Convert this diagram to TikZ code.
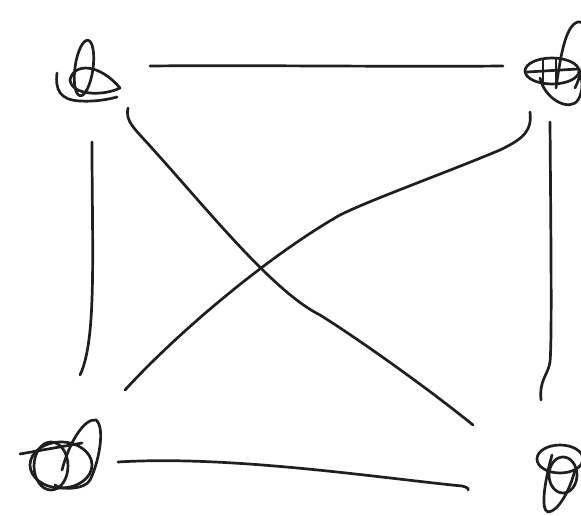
\documentclass[tikz,border=0pt]{standalone}
\begin{document}
\begin{tikzpicture}[x=1pt,y=-1pt,
  ink/.style={line width=2.7pt, line cap=round, line join=round, black!88},
  vert/.style={inner sep=0pt, minimum size=50pt}]
\useasboundingbox (0,0) rectangle (581,516);
% vertices (scribbled)
\node[vert] (A) at (88,70) {};
\node[vert] (B) at (552,72) {};
\node[vert] (C) at (60,462) {};
\node[vert] (D) at (560,475) {};
% scribble A
\draw[ink] (84,68) ellipse [x radius=9, y radius=28, rotate=-8];
\draw[ink] (70,80) .. controls (74,62) and (100,64) .. (120,88) .. controls (104,96) and (72,96) .. (70,80);
\draw[ink] (57,73) .. controls (55,90) and (60,100) .. (80,101) .. controls (95,102) and (110,99) .. (117,97);
% scribble B
\draw[ink] (552,71) ellipse [x radius=27, y radius=13];
\draw[ink] (543,60) -- (543,84);
\draw[ink] (556,58) -- (556,86);
\draw[ink] (527,72) -- (578,69);
\draw[ink] (540,78) .. controls (545,100) and (570,112) .. (578,100) .. controls (584,90) and (582,80) .. (580,72);
\draw[ink] (556,88) .. controls (560,60) and (565,25) .. (578,22) .. controls (592,20) and (588,60) .. (575,88);
% scribble C
\draw[ink] (20,454) -- (82,443);
\draw[ink] (61,465) ellipse [x radius=31, y radius=23];
\draw[ink] (51,466) ellipse [x radius=17, y radius=24];
\draw[ink] (62,470) .. controls (70,440) and (85,418) .. (96,420) .. controls (106,428) and (98,465) .. (90,480) .. controls (85,490) and (60,490) .. (55,485);
% scribble D
\draw[ink] (560,459) ellipse [x radius=23, y radius=14];
\draw[ink] (563,475) ellipse [x radius=14, y radius=18];
\draw[ink] (552,455) .. controls (545,480) and (540,510) .. (548,512) .. controls (558,512) and (570,490) .. (575,470);
% connector ends
\coordinate (a1) at (150,66); \coordinate (b1) at (503,66);
\coordinate (a2) at (92,142); \coordinate (c1) at (80,375);
\coordinate (b2) at (550,122); \coordinate (d1) at (541,400);
\coordinate (c2) at (118,462); \coordinate (d2) at (468,490);
\coordinate (a3) at (128,108); \coordinate (d3) at (473,425);
\coordinate (b3) at (530,112); \coordinate (c3) at (125,390);
% connectors
\draw[ink] (a1) .. controls (250,65) and (400,67) .. (b1);
\draw[ink] (a2) .. controls (92,250) and (97,340) .. (c1);
\draw[ink] (b2) .. controls (551,250) and (552,340) .. (550,362) .. controls (548,375) and (539,380) .. (d1);
\draw[ink] (c2) .. controls (230,455) and (380,478) .. (462,486) .. controls (467,487) and (469,489) .. (d2);
\draw[ink] (a3) .. controls (126,118) and (130,124) .. (140,135) .. controls (200,200) and (270,290) .. (320,315) .. controls (360,340) and (430,390) .. (d3);
\draw[ink] (b3) .. controls (532,130) and (525,138) .. (500,150) .. controls (440,175) and (370,200) .. (340,215) .. controls (270,255) and (180,330) .. (c3);
\end{tikzpicture}
\end{document}
